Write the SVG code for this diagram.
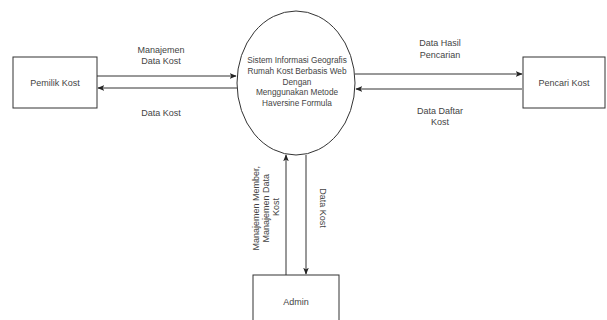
<svg xmlns="http://www.w3.org/2000/svg" width="607" height="320" viewBox="0 0 607 320">
  <style>
    .box { fill: #ffffff; stroke: #333333; stroke-width: 1; }
    .flow { fill: none; stroke: #333333; stroke-width: 1; }
    .lbl { font-family: "Liberation Sans", Arial, sans-serif; font-size: 9px; fill: #444444; text-anchor: middle; }
  </style>
  <defs>
    <marker id="arrow" viewBox="0 0 10 10" refX="9" refY="5" markerWidth="7" markerHeight="7" orient="auto" markerUnits="userSpaceOnUse">
      <path d="M0,1 L10,5 L0,9 L2.5,5 Z" fill="#222222"/>
    </marker>
  </defs>
  <rect width="607" height="320" fill="#ffffff"/>

  <g id="connectors">
    <!-- Pemilik Kost <-> system -->
    <line class="flow" x1="97" y1="76" x2="236" y2="76" marker-end="url(#arrow)"/>
    <line class="flow" x1="237" y1="88" x2="98" y2="88" marker-end="url(#arrow)"/>
    <text class="lbl" x="161" y="53">Manajemen</text>
    <text class="lbl" x="161" y="64">Data Kost</text>
    <text class="lbl" x="161" y="116">Data Kost</text>

    <!-- system <-> Pencari Kost -->
    <line class="flow" x1="355" y1="74" x2="522" y2="74" marker-end="url(#arrow)"/>
    <line class="flow" x1="522" y1="89" x2="356" y2="89" marker-end="url(#arrow)"/>
    <text class="lbl" x="440" y="46">Data Hasil</text>
    <text class="lbl" x="440" y="58">Pencarian</text>
    <text class="lbl" x="440" y="114">Data Daftar</text>
    <text class="lbl" x="440" y="125">Kost</text>

    <!-- Admin <-> system -->
    <line class="flow" x1="286" y1="275" x2="286" y2="155" marker-end="url(#arrow)"/>
    <line class="flow" x1="306" y1="155" x2="306" y2="274" marker-end="url(#arrow)"/>
    <text class="lbl" transform="translate(267,207) rotate(-90)">
      <tspan x="0" y="-8">Manajemen Member,</tspan>
      <tspan x="0" y="2">Manajemen Data</tspan>
      <tspan x="0" y="12">Kost</tspan>
    </text>
    <text class="lbl" transform="translate(320,208) rotate(90)" x="0" y="0">Data Kost</text>
  </g>

  <g id="pemilik-kost">
    <rect class="box" x="13" y="57" width="84" height="51"/>
    <text class="lbl" x="55" y="86">Pemilik Kost</text>
  </g>

  <g id="sistem">
    <ellipse class="box" cx="296" cy="83" rx="59" ry="72"/>
    <!-- title set slightly condensed so the widest line fits inside the ellipse -->
    <g transform="matrix(0.92,0,0,1,23.76,0)">
      <text class="lbl" x="297" y="63">Sistem Informasi Geografis</text>
      <text class="lbl" x="297" y="74">Rumah Kost Berbasis Web</text>
      <text class="lbl" x="297" y="85">Dengan</text>
      <text class="lbl" x="297" y="95">Menggunakan Metode</text>
      <text class="lbl" x="297" y="106">Haversine Formula</text>
    </g>
  </g>

  <g id="pencari-kost">
    <rect class="box" x="523" y="57" width="82" height="51"/>
    <text class="lbl" x="564" y="86">Pencari Kost</text>
  </g>

  <g id="admin">
    <rect class="box" x="253" y="275" width="86" height="60"/>
    <text class="lbl" x="296" y="305">Admin</text>
  </g>
</svg>
